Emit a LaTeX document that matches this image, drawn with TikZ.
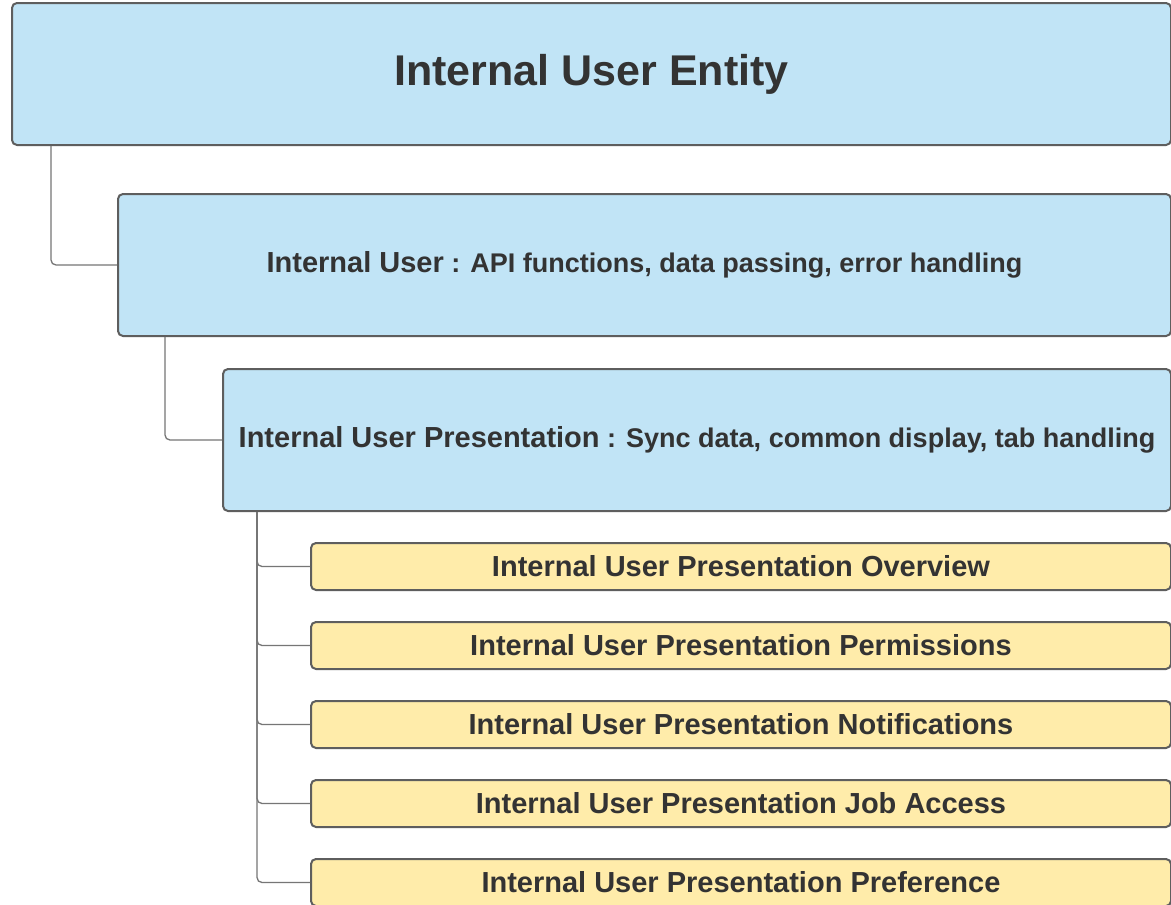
\documentclass[tikz,border=0pt]{standalone}
\usepackage{fontspec}
\setmainfont{Liberation Sans}
\usepackage{xcolor}
\usetikzlibrary{positioning}
\definecolor{panelblue}{RGB}{193,228,246}
\definecolor{panelyellow}{RGB}{255,236,170}
\definecolor{edge}{RGB}{94,94,94}
\definecolor{wire}{RGB}{118,118,118}
\definecolor{ink}{RGB}{51,51,51}
\tikzset{
    entity/.style={rectangle, rounded corners=5pt, draw=edge, line width=2pt, fill=panelblue, text=ink, font=\bfseries\fontsize{27}{32}\selectfont, inner sep=2pt, text centered},
    item/.style={rectangle, rounded corners=5pt, draw=edge, line width=2pt, fill=panelyellow, text=ink, font=\bfseries\fontsize{29}{34}\selectfont, inner sep=2pt, minimum width=860pt, minimum height=47pt, text centered},
    link/.style={draw=wire, line width=1.3pt, rounded corners=5pt}
}
\newcommand{\bigpart}[1]{{\fontsize{29}{34}\selectfont #1}}

\begin{document}
\begin{tikzpicture}[x=1pt, y=-1pt, node distance=30pt]
    \useasboundingbox[fill=white] (0,0) rectangle (1171,905);

    % Top level entity
    \node[entity, minimum width=1159pt, minimum height=142pt, font=\bfseries\fontsize{43}{50}\selectfont] (root) at (591.5,74) {Internal User Entity};

    % API layer
    \node[entity, minimum width=1053pt, minimum height=142pt] (api) at (644.5,265) {\bigpart{Internal User} : API functions, data passing, error handling};

    % Presentation layer
    \node[entity, minimum width=948pt, minimum height=142pt] (pres) at (697,440) {\bigpart{Internal User Presentation} : Sync data, common display, tab handling};

    % Presentation tabs
    \node[item] (overview) at (741,566.5) {Internal User Presentation Overview};
    \node[item, below=of overview] (perms) {Internal User Presentation Permissions};
    \node[item, below=of perms] (notes) {Internal User Presentation Notifications};
    \node[item, below=of notes] (jobs) {Internal User Presentation Job Access};
    \node[item, below=of jobs] (prefs) {Internal User Presentation Preference};

    % Connections
    \draw[link] ([xshift=40pt]root.south west) |- (api.west);
    \draw[link] ([xshift=48pt]api.south west) |- (pres.west);
    \draw[link] ([xshift=35pt]pres.south west) |- (overview.west);
    \draw[link] ([xshift=35pt]pres.south west) |- (perms.west);
    \draw[link] ([xshift=35pt]pres.south west) |- (notes.west);
    \draw[link] ([xshift=35pt]pres.south west) |- (jobs.west);
    \draw[link] ([xshift=35pt]pres.south west) |- (prefs.west);
\end{tikzpicture}
\end{document}
